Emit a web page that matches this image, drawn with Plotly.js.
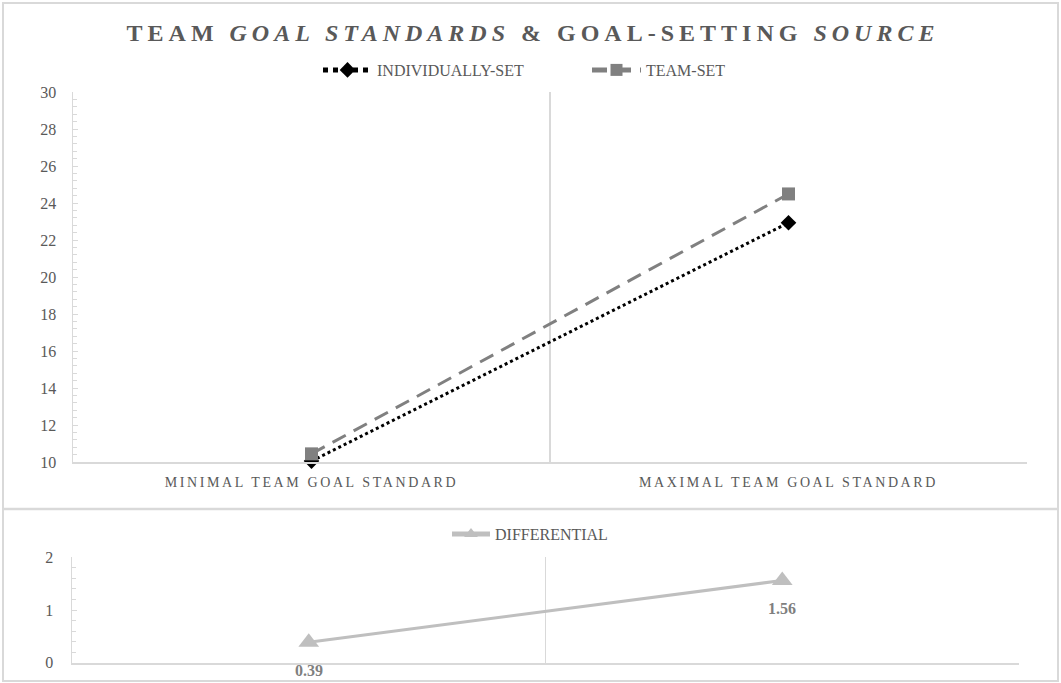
<!DOCTYPE html>
<html>
<head>
<meta charset="utf-8">
<script src="https://cdn.plot.ly/plotly-3.0.1.min.js"></script>
<style>
  html, body { margin: 0; padding: 0; background: #ffffff; }
  #chart { width: 1061px; height: 683px; }
  /* spaced-out lettering for the title and category labels */
  .gtitle { letter-spacing: 5px; }
  .xtick text { letter-spacing: 2.6px; }
</style>
</head>
<body>
<div id="chart"></div>
<script>
// Category labels shared by both panels
const categories = ['MINIMAL TEAM GOAL STANDARD', 'MAXIMAL TEAM GOAL STANDARD'];

// Mean team goal standard by goal-setting source
const individuallySet = [10.05, 22.93];
const teamSet = [10.44, 24.49];

// Team-set minus individually-set
const differential = [0.39, 1.56];

const W = 1061, H = 683;
const px = v => v / W;
const py = v => 1 - v / H;

const grey = '#595959';
const rule = '#d9d9d9';
const serif = 'Liberation Serif, Times New Roman, serif';

const traces = [
  {
    x: categories, y: individuallySet, name: 'INDIVIDUALLY-SET',
    type: 'scatter', mode: 'lines+markers',
    line: { color: '#000000', width: 3, dash: 'dot' },
    marker: { symbol: 'diamond', size: 12, color: '#000000' },
    xaxis: 'x', yaxis: 'y', legend: 'legend', cliponaxis: false
  },
  {
    x: categories, y: teamSet, name: 'TEAM-SET',
    type: 'scatter', mode: 'lines+markers',
    line: { color: '#808080', width: 3, dash: '15px,9px' },
    marker: { symbol: 'square', size: 13, color: '#808080' },
    xaxis: 'x', yaxis: 'y', legend: 'legend', cliponaxis: false
  },
  {
    x: categories, y: differential, name: 'DIFFERENTIAL',
    type: 'scatter', mode: 'lines+markers',
    line: { color: '#bfbfbf', width: 3 },
    marker: { symbol: 'triangle-up', size: 18, color: '#bfbfbf' },
    xaxis: 'x2', yaxis: 'y2', legend: 'legend2', cliponaxis: false
  }
];

// Value labels under each differential point
const diffLabels = categories.map((c, i) => ({
  x: c, y: differential[i], xref: 'x2', yref: 'y2',
  text: differential[i].toFixed(2), showarrow: false,
  yshift: -28, xanchor: 'center', yanchor: 'middle',
  font: { family: serif, size: 16, color: '#7f7f7f', weight: 'bold' }
}));

const layout = {
  width: W, height: H,
  margin: { l: 0, r: 0, t: 0, b: 0 },
  paper_bgcolor: '#ffffff', plot_bgcolor: '#ffffff',
  font: { family: serif, color: grey, size: 15 },
  title: {
    text: 'TEAM <i>GOAL STANDARDS</i> & GOAL-SETTING <i>SOURCE</i>',
    font: { family: serif, size: 24, color: grey, weight: 'bold' },
    x: px(533), xanchor: 'center', y: py(33), yanchor: 'middle'
  },
  showlegend: true,
  legend: {
    orientation: 'h', x: px(318), xanchor: 'left', y: py(70), yanchor: 'middle',
    font: { family: serif, size: 16, color: grey },
    itemwidth: 49, itemsizing: 'constant',
    entrywidth: 205, entrywidthmode: 'pixels', bgcolor: 'rgba(0,0,0,0)'
  },
  legend2: {
    orientation: 'h', x: px(447), xanchor: 'left', y: py(534), yanchor: 'middle',
    font: { family: serif, size: 16, color: grey },
    itemwidth: 38, itemsizing: 'constant', bgcolor: 'rgba(0,0,0,0)'
  },
  xaxis: {
    domain: [px(73), px(1027)], anchor: 'y', type: 'category',
    tickson: 'boundaries', ticks: '', showgrid: true, gridcolor: rule, gridwidth: 1.5,
    showline: true, linecolor: rule, linewidth: 2,
    tickfont: { family: serif, size: 14, color: grey }, ticklabelstandoff: 6,
    range: [-0.5, 1.5], fixedrange: true
  },
  yaxis: {
    domain: [py(462), py(92)], anchor: 'x', range: [10, 30], dtick: 2,
    showgrid: false, zeroline: false, showline: true, linecolor: rule, linewidth: 1.5,
    ticks: 'inside', ticklen: 5, tickcolor: rule, tickwidth: 1,
    minor: { dtick: 0.4, ticks: 'inside', ticklen: 4, tickcolor: rule, tickwidth: 1 },
    tickfont: { family: serif, size: 16, color: grey }, ticklabelstandoff: 12,
    fixedrange: true
  },
  xaxis2: {
    domain: [px(72), px(1019)], anchor: 'y2', type: 'category',
    tickson: 'boundaries', ticks: '', showgrid: true, gridcolor: rule, gridwidth: 1.5,
    showline: true, linecolor: rule, linewidth: 2, showticklabels: false,
    range: [-0.5, 1.5], fixedrange: true
  },
  yaxis2: {
    domain: [py(662.7), py(557.3)], anchor: 'x2', range: [0, 2], dtick: 1,
    showgrid: false, zeroline: false, showline: true, linecolor: rule, linewidth: 1.5,
    ticks: 'inside', ticklen: 5, tickcolor: rule, tickwidth: 1,
    minor: { dtick: 0.2, ticks: 'inside', ticklen: 4, tickcolor: rule, tickwidth: 1 },
    tickfont: { family: serif, size: 16, color: grey }, ticklabelstandoff: 14,
    fixedrange: true
  },
  annotations: diffLabels,
  shapes: [
    { type: 'rect', xref: 'paper', yref: 'paper', x0: px(3), x1: px(1058), y0: py(681), y1: py(3),
      line: { color: rule, width: 2 }, fillcolor: 'rgba(0,0,0,0)', layer: 'below' },
    { type: 'line', xref: 'paper', yref: 'paper', x0: px(3), x1: px(1058), y0: py(509), y1: py(509),
      line: { color: rule, width: 2.5 }, layer: 'below' }
  ]
};

Plotly.newPlot('chart', traces, layout, { displayModeBar: false, staticPlot: true });
</script>
</body>
</html>
